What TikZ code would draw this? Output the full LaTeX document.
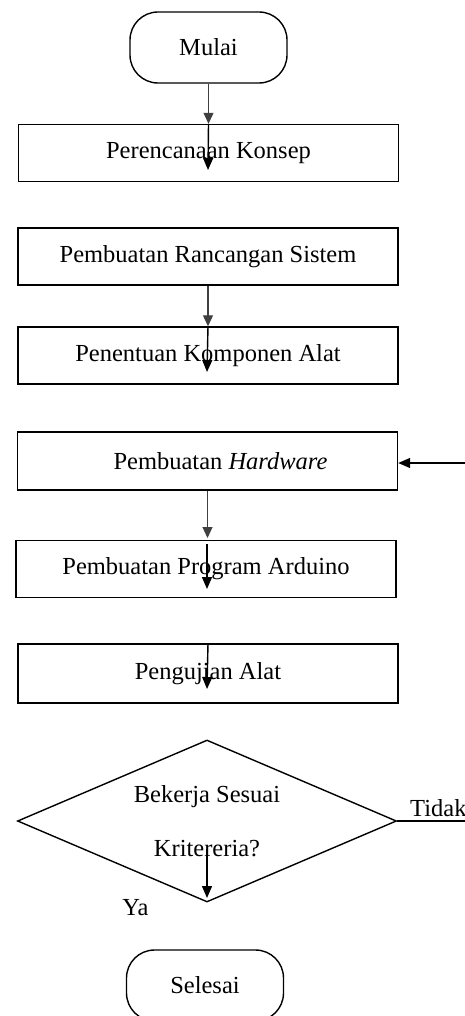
\documentclass[tikz,border=0pt]{standalone}
\usepackage{fontspec}
\setmainfont{Liberation Serif}
\usetikzlibrary{shapes.geometric,arrows.meta}
\begin{document}
\begin{tikzpicture}[x=1pt,y=-1pt,
  every node/.style={font=\fontsize{24.5}{28}\selectfont},
  procbox/.style={draw, line width=1.4pt, minimum width=380pt, minimum height=57pt, inner sep=0pt, anchor=center},
  term/.style={draw, line width=1.4pt, rounded corners=28pt, minimum width=157pt, minimum height=71pt, inner sep=0pt},
  flow/.style={line width=1.1pt, draw=black!75, -{Triangle[width=10pt,length=11pt]}},
  inflow/.style={line width=1.4pt, draw=black, -{Triangle[width=10pt,length=12pt]}},
  plainline/.style={line width=1.4pt}]
\useasboundingbox (0,0) rectangle (465,1016);
\clip (0,0) rectangle (465,1016);
% nodes
\node[term] (mulai) at (208.5,47.5) {Mulai};
\node[procbox] (b1) at (208.5,153) {Perencanaan Konsep};
\node[procbox] (b2) at (208,256.5) {Pembuatan Rancangan Sistem};
\node[procbox] (b3) at (208,355.5) {Penentuan Komponen Alat};
\node[procbox, minimum height=58pt] (b4) at (207.5,461) {\hspace*{26pt}Pembuatan \textit{Hardware}};
\node[procbox] (b5) at (206,569) {Pembuatan Program Arduino};
\node[procbox, minimum height=59pt] (b6) at (208,673.5) {Pengujian Alat};
\node[diamond, draw, line width=1.4pt, aspect=2.34, minimum width=379pt, minimum height=162pt, inner sep=0pt, align=center] (dec) at (207,821) {Bekerja Sesuai\\[26pt]Kritereria?};
\node[term] (selesai) at (205,985.5) {Selesai};
\node[anchor=west, inner sep=0pt] (tidak) at (410,808) {Tidak};
\node[inner sep=0pt] (ya) at (135.5,908) {Ya};
% coordinates
\coordinate (e1) at (208,170);
\coordinate (e3) at (207,372);
\coordinate (e4) at (207.5,538);
\coordinate (s5) at (207,544);
\coordinate (e5) at (207,589);
\coordinate (e6) at (207,689);
\coordinate (s7) at (207,849);
\coordinate (e7) at (207,898);
\coordinate (rt) at (465,821);
\coordinate (rtop) at (465,463);
% connectors
\draw[flow] (mulai.south) -- (b1.north);
\draw[inflow] (b1.north) -- (e1);
\draw[flow] (b2.south) -- (b3.north);
\draw[inflow] (b3.north) -- (e3);
\draw[flow] (b4.south) -- (e4);
\draw[inflow] (s5) -- (e5);
\draw[inflow] (b6.north) -- (e6);
\draw[inflow] (s7) -- (e7);
\draw[plainline] (dec.east) -- (rt);
\draw[inflow] (rtop) -- (b4.east |- rtop);
\end{tikzpicture}
\end{document}
